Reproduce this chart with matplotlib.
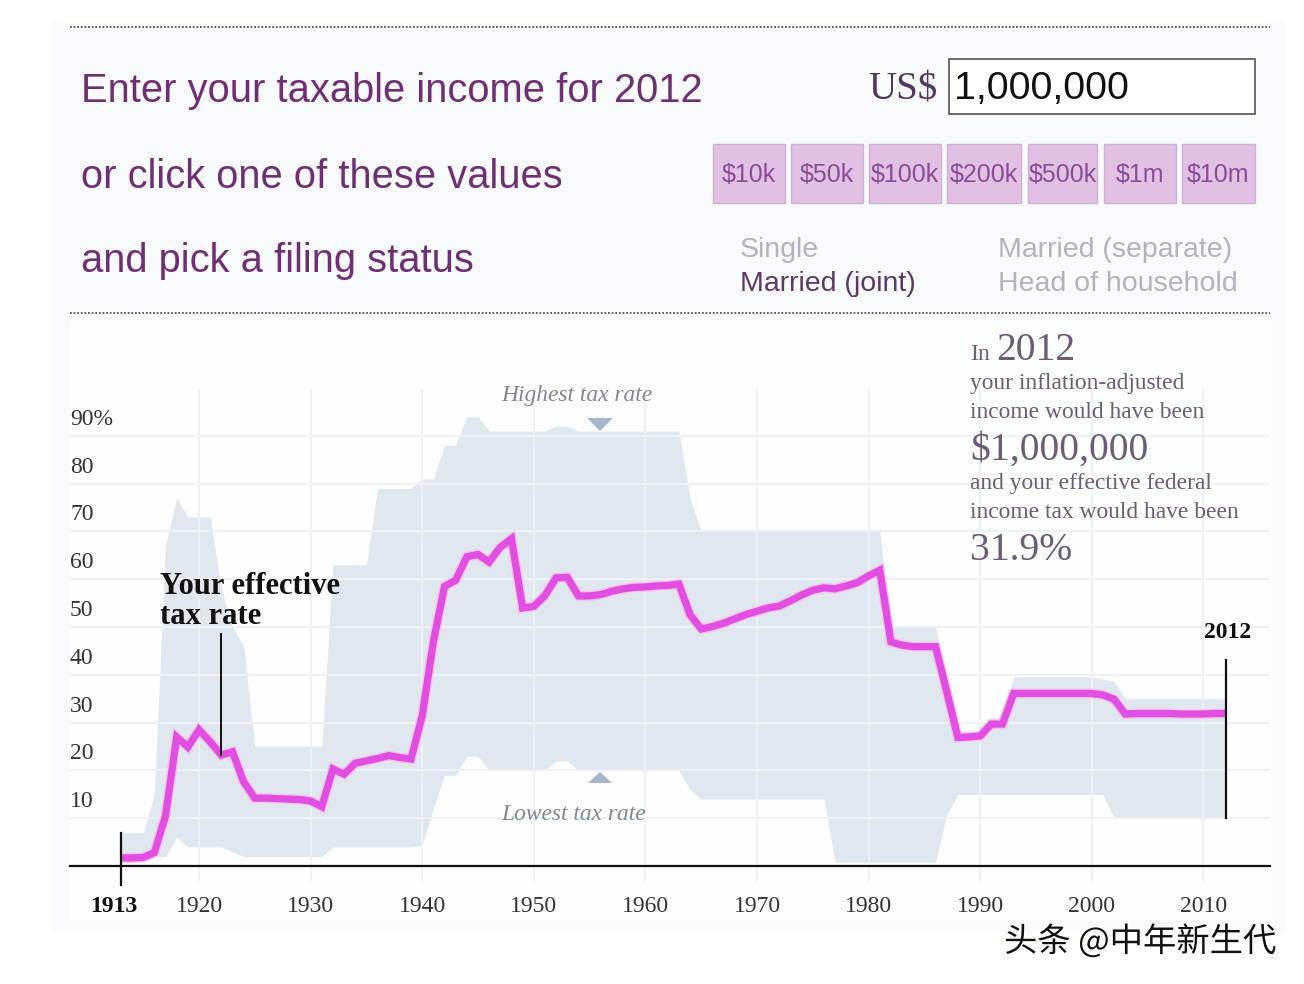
import matplotlib
matplotlib.use("Agg")
import matplotlib.pyplot as plt
from matplotlib.patches import Rectangle, Polygon
from matplotlib.transforms import ScaledTranslation
import matplotlib.patheffects as pe

years = list(range(1913, 2013))
effective = [1.7, 1.7, 1.8, 2.8, 10.5, 27, 24.9, 28.5, 26, 23.2, 23.9, 17.6, 14.2, 14.2, 14.1, 14, 13.9, 13.6, 12.4,
             20.3, 19.2, 21.5, 22, 22.5, 23.1, 22.7, 22.4, 31.4, 46.9, 58.5, 59.8, 64.7, 65.2, 63.6, 66.7, 68.5,
             54, 54.3, 56.6, 60.3, 60.4, 56.5, 56.5, 56.8, 57.5, 58, 58.3, 58.4, 58.6, 58.7, 59, 52.6, 49.6, 50.1,
             50.8, 51.7, 52.6, 53.3, 54, 54.4, 55.5, 56.7, 57.7, 58.2, 58, 58.6, 59.3, 60.7, 61.9, 46.9, 46.2, 45.9,
             45.9, 45.9, 36.5, 26.9, 27, 27.2, 29.7, 29.7, 36.1, 36.1, 36.1, 36.1, 36.1, 36.1, 36.1, 36.1, 35.8,
             34.9, 31.8, 31.9, 31.9, 31.9, 31.9, 31.8, 31.8, 31.8, 31.9, 31.9]
highest = [7, 7, 7, 15, 67, 77, 73, 73, 73, 58, 50, 46, 25, 25, 25, 25, 25, 25, 25,
           63, 63, 63, 63, 79, 79, 79, 79, 81, 81, 88, 88, 94, 94, 91, 91, 91, 91, 91, 91, 92, 92, 91, 91, 91, 91, 91,
           91, 91, 91, 91, 91, 77, 70, 70, 70, 70, 70, 70, 70, 70, 70, 70, 70, 70, 70, 70, 70, 70, 70, 50, 50, 50,
           50, 50, 38.5, 28, 28, 28, 31, 31, 39.6, 39.6, 39.6, 39.6, 39.6, 39.6, 39.6, 39.6, 39.1, 38.6, 35, 35, 35,
           35, 35, 35, 35, 35, 35, 35]
lowest = [2, 2, 2, 2, 2, 6, 4, 4, 4, 4, 3, 2, 2, 2, 2, 2, 2, 2, 2,
          4, 4, 4, 4, 4, 4, 4, 4, 4.4, 12, 19, 19, 23, 23, 20, 20, 20, 20, 20, 20, 22, 22, 20, 20, 20, 20, 20,
          20, 20, 20, 20, 20, 16, 14, 14, 14, 14, 14, 14, 14, 14, 14, 14, 14, 14, 0.8, 0.8, 0.8, 0.8, 0.8, 0.8, 0.8, 0.8,
          0.8, 0.8, 10.6, 15, 15, 15, 15, 15, 15, 15, 15, 15, 15, 15, 15, 15, 15, 10, 10, 10, 10, 10, 10, 10, 10,
          10, 10, 10]
x_ticks = [1920, 1930, 1940, 1950, 1960, 1970, 1980, 1990, 2000, 2010]
y_ticks = [10, 20, 30, 40, 50, 60, 70, 80, 90]
y_labels = ["10", "20", "30", "40", "50", "60", "70", "80", "90%"]
presets = ["$10k", "$50k", "$100k", "$200k", "$500k", "$1m", "$10m"]

SANS = "Liberation Sans"
SERIF = "Liberation Serif"
HEAD = "#6e3072"
W, H = 1304, 984

fig = plt.figure(figsize=(W / 100, H / 100), dpi=100, facecolor="white")

# page furniture, in pixel units
ui = fig.add_axes([0, 0, 1, 1], zorder=0)
ui.set_xlim(0, W)
ui.set_ylim(H, 0)
ui.axis("off")
ui.add_patch(Rectangle((52, 22), 1233, 910, fc="#f8fafe", ec="none"))
ui.add_patch(Rectangle((70, 322), 1202, 600, fc="#fdfeff", ec="none"))
for yy in (27, 313):
    ui.plot([70, 1270], [yy, yy], color="#555555", lw=1.3, ls=(0, (1, 1)))

for txt, yy in (("Enter your taxable income for 2012", 91),
                ("or click one of these values", 177),
                ("and pick a filing status", 261)):
    ui.text(81, yy, txt, family=SANS, fontsize=28.7, color=HEAD, va="center", ha="left")

ui.text(868, 90, "US$", family=SERIF, fontsize=28, color="#50395f", va="center", ha="left")
ui.add_patch(Rectangle((949, 59), 306, 55, fc="white", ec="#555555", lw=1.2))
ui.text(954, 89, "1,000,000", family=SANS, fontsize=28.4, color="#111111", va="center", ha="left")

btn_x = [(713, 785), (791, 863), (869, 941), (947, 1021), (1028, 1097), (1104, 1176), (1182, 1255)]
for (a, b), lab in zip(btn_x, presets):
    ui.add_patch(Rectangle((a, 144), b - a, 59, fc="#e2c0e4", ec="#cdb2d0", lw=1))
    ui.text((a + b) / 2, 175, lab.replace("$", r"\$"), family=SANS, fontsize=18, color="#8a4c98",
            va="center", ha="center")

ui.text(740, 250, "Single", family=SANS, fontsize=20.5, color="#b3b3bd", va="center")
ui.text(740, 284, "Married (joint)", family=SANS, fontsize=20.5, color="#5b3a68", va="center")
ui.text(998, 250, "Married (separate)", family=SANS, fontsize=20.5, color="#b3b3bd", va="center")
ui.text(998, 284, "Head of household", family=SANS, fontsize=20.5, color="#b3b3bd", va="center")

# chart axes: 1908.44-2015.97 across px 70-1270, 0-99.6 across px 866-390
ax = fig.add_axes([70 / W, (H - 866) / H, 1200 / W, 476 / H], zorder=1)
ax.patch.set_alpha(0)
ax.set_xlim(1908.44, 2015.97)
ax.set_ylim(0, 99.6)
for s in ("top", "left", "right"):
    ax.spines[s].set_visible(False)
ax.spines["bottom"].set_color("#111111")
ax.spines["bottom"].set_linewidth(1.6)

ax.fill_between(years, lowest, highest, color="#e0e7ef", lw=0, zorder=1)
ax.set_yticks(y_ticks)
ax.set_yticklabels(y_labels, family=SERIF, fontsize=17, color="#333333")
ax.set_xticks(x_ticks)
ax.set_xticklabels([str(v) for v in x_ticks], family=SERIF, fontsize=17, color="#333333")
ax.tick_params(axis="both", length=0)
ax.tick_params(axis="x", pad=21.5)
ax.tick_params(axis="y", pad=0)
for lab in ax.get_yticklabels():
    lab.set_ha("left")
    lab.set_va("center")
    lab.set_transform(lab.get_transform() + ScaledTranslation(0, 0.165, fig.dpi_scale_trans))
ax.grid(axis="y", color="#eef1f6", lw=1.4, zorder=2)
ax.set_axisbelow(False)
for xv in x_ticks:
    ax.plot([xv, xv], [-3, 99.6], color="#eef1f6", lw=1.4, zorder=2, clip_on=False)

ax.plot(years, effective, color="#e04fe0", lw=5.2, zorder=4, solid_joinstyle="miter", solid_capstyle="butt",
        path_effects=[pe.Stroke(linewidth=7.2, foreground="#f5c4f2"), pe.Normal()])

ax.plot([1913, 1913], [-4, 7], color="#111111", lw=1.6, zorder=5, clip_on=False)
ax.plot([1922, 1922], [23.2, 48.5], color="#111111", lw=1.4, zorder=5)
ax.plot([2012, 2012], [10, 43], color="#111111", lw=1.6, zorder=5)

ax.annotate("1913", (1913, 0), xytext=(-7 * 0.72, -40.5 * 0.72), textcoords="offset points", family=SERIF,
            fontsize=17, fontweight="bold", color="#111111", ha="center", va="center", annotation_clip=False)
ax.annotate("2012", (2012, 0), xytext=(2 * 0.72, 233 * 0.72), textcoords="offset points", family=SERIF,
            fontsize=17, fontweight="bold", color="#111111", ha="center", va="center", annotation_clip=False)

ui2 = fig.add_axes([0, 0, 1, 1], zorder=2)
ui2.set_xlim(0, W)
ui2.set_ylim(H, 0)
ui2.axis("off")
ui2.text(160, 587, "Your effective", family=SERIF, fontsize=22, fontweight="bold", color="#111111", va="center")
ui2.text(160, 617, "tax rate", family=SERIF, fontsize=22, fontweight="bold", color="#111111", va="center")
ui2.text(501, 396, "Highest tax rate", family=SERIF, style="italic", fontsize=16.9, color="#7f8898", va="center")
ui2.text(501, 814, "Lowest tax rate", family=SERIF, style="italic", fontsize=16.9, color="#7f8898", va="center")
ui2.add_patch(Polygon([(587, 418), (613, 418), (600, 431)], fc="#a9b8ca", ec="none"))
ui2.add_patch(Polygon([(588, 783), (612, 783), (600, 772)], fc="#a9b8ca", ec="none"))

TXT = "#6b5c78"
ui2.text(970, 354, "In", family=SERIF, fontsize=17, color=TXT, va="center")
ui2.text(996, 350, "2012", family=SERIF, fontsize=28.5, color=TXT, va="center")
ui2.text(970, 383, "your inflation-adjusted", family=SERIF, fontsize=16.9, color=TXT, va="center")
ui2.text(970, 413, "income would have been", family=SERIF, fontsize=16.9, color=TXT, va="center")
ui2.text(970, 450, "$1,000,000".replace("$", r"\$"), family=SERIF, fontsize=28.5, color=TXT, va="center")
ui2.text(970, 483, "and your effective federal", family=SERIF, fontsize=16.9, color=TXT, va="center")
ui2.text(970, 513, "income tax would have been", family=SERIF, fontsize=16.9, color=TXT, va="center")
ui2.text(970, 550, "31.9%", family=SERIF, fontsize=28.5, color=TXT, va="center")

ui2.text(1004, 942, "头条 @中年新生代", family=["Noto Sans CJK SC", "DejaVu Sans"], fontsize=24, color="#111111",
         va="center", path_effects=[pe.withStroke(linewidth=2.5, foreground="white")])

fig.savefig("out.png", dpi=100, facecolor="white")
